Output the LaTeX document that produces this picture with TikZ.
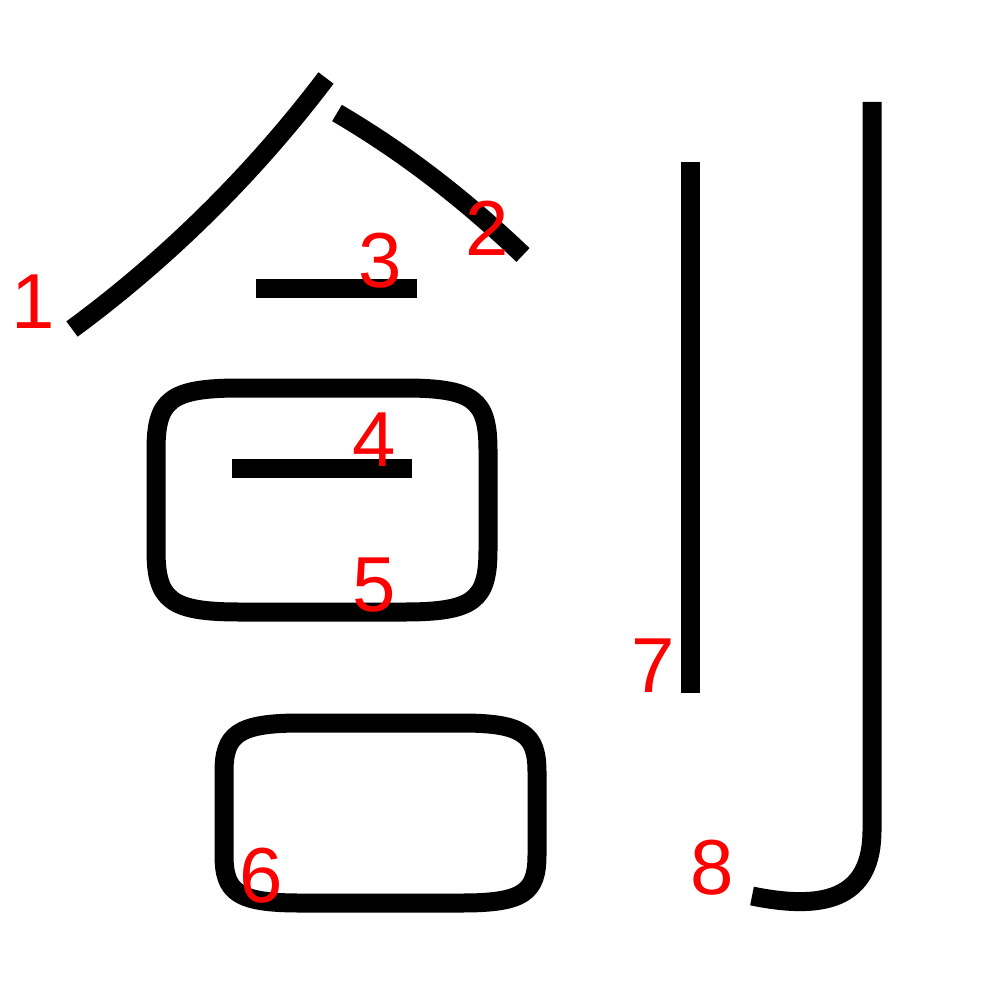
\documentclass[tikz,border=0pt]{standalone}
\usepackage{fontspec}
\usepackage{tikz}
\usetikzlibrary{calc}
\usetikzlibrary{positioning}
\newfontfamily\numfont{Liberation Sans}
\definecolor{red}{rgb}{1.0,0.0,0.0}
\tikzset{
  stroke/.style={black, line width=19pt},
  num/.style={red, inner sep=0pt, font=\numfont\fontsize{78pt}{78pt}\selectfont}
}
\begin{document}
\begin{tikzpicture}[x=1pt, y=-1pt]
    \useasboundingbox (0,0) rectangle (1000,1000);
    %% \draw[help lines, step=100] (0,0) grid (1000,1000);
    \draw[stroke] (72,329) .. controls (155,268) and (245,185) .. (326,78);
    \draw[stroke] (337,113) .. controls (400,150) and (460,195) .. (523,255);
    \draw[stroke] (256,288) -- (417,288);
    \draw[stroke] (232,468) -- (412,468);
    \draw[stroke, line join=round] (240,388) -- (404,388)
      .. controls (474,388) and (488,400) .. (488,450) -- (488,550)
      .. controls (488,600) and (474,612) .. (404,612) -- (240,612)
      .. controls (170,612) and (156,600) .. (156,550) -- (156,450)
      .. controls (156,400) and (170,388) .. (240,388) -- cycle;
    \draw[stroke, line join=round] (300,723) -- (462,723)
      .. controls (524,723) and (537,735) .. (537,772) -- (537,855)
      .. controls (537,892) and (524,903) .. (462,903) -- (300,903)
      .. controls (237,903) and (224,892) .. (224,855) -- (224,772)
      .. controls (224,735) and (237,723) .. (300,723) -- cycle;
    \draw[stroke] (690,162) -- (690,693);
    \draw[stroke] (872,102) -- (872,830) .. controls (872,895) and (830,912) .. (752,896);
    \node[num] (N1) at (33,302) {1};
    \node[num] (N2) at (487,228) {2};
    \node[num] (N3) at (380,261) {3};
    \node[num] (N4) at (374,440) {4};
    \node[num] (N5) at (374,585) {5};
    \node[num] (N6) at (261,876) {6};
    \node[num] (N7) at (653,666) {7};
    \node[num] (N8) at (712,868) {8};
  \end{tikzpicture}
\end{document}
